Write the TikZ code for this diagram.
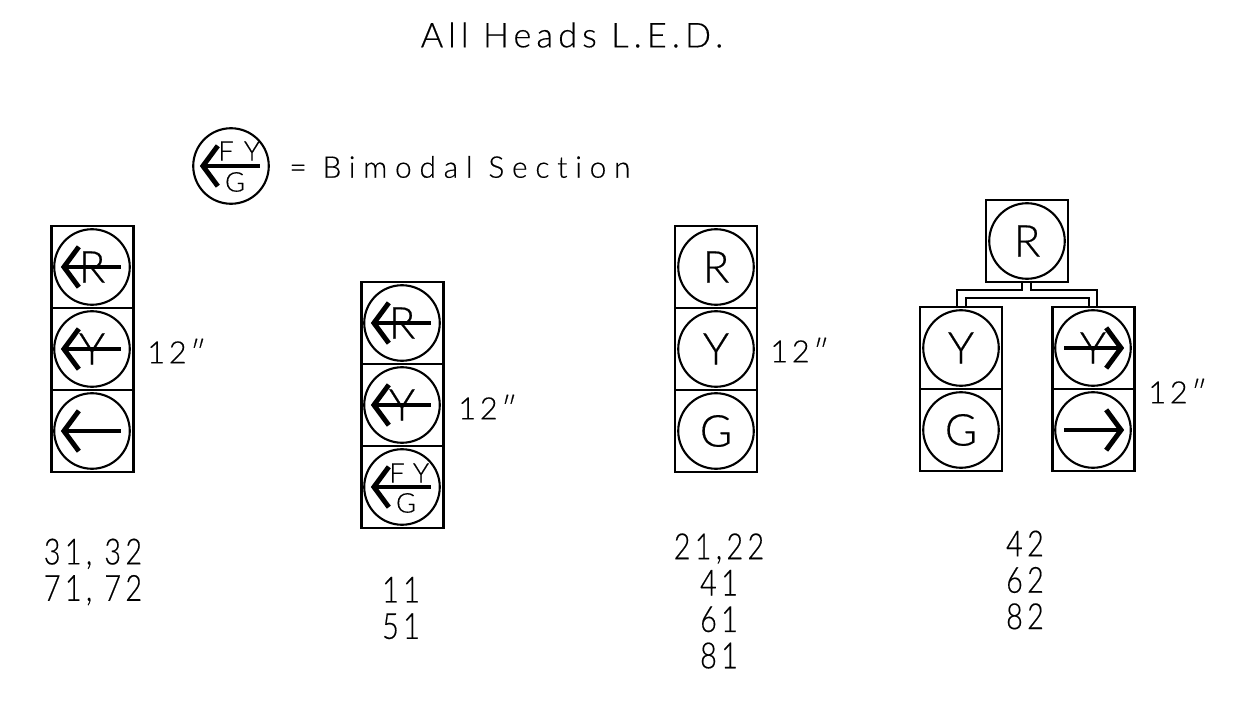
\documentclass[tikz,border=0pt]{standalone}
\usepackage{fontspec}
\setmainfont[FakeBold=0.4]{Lato Light}
\newfontfamily\headfont[LetterSpace=15,Ligatures=NoCommon,FakeBold=0.4]{Lato Light}
\newfontfamily\legfont[LetterSpace=26,Ligatures=NoCommon,FakeBold=0.4]{Lato Light}
\newfontfamily\sizefont[LetterSpace=12,FakeBold=0.4]{Lato Light}
\newfontfamily\numfont[LetterSpace=12,FakeStretch=0.8,FakeBold=0.4]{Lato Light}
\tikzset{
  headbox/.style={draw,line width=1.4pt,minimum width=46.6pt,minimum height=46.6pt,inner sep=0pt,outer sep=0pt},
  lamp/.style={draw,circle,line width=1.2pt,minimum size=43pt,inner sep=0pt,font=\fontsize{25}{26}\selectfont},
  wire/.style={line width=1.3pt},
  shaft/.style={line width=2.3pt},
  barb/.style={line width=2.8pt},
  small/.style={font=\fontsize{15.5}{16}\selectfont,inner sep=0pt},
  sizelabel/.style={font=\sizefont\fontsize{17.5}{18}\selectfont,inner sep=0pt},
  numlabel/.style={font=\numfont\fontsize{20.5}{20.7}\selectfont,align=center,inner sep=0pt},
  titlelabel/.style={font=\headfont\fontsize{19.5}{20}\selectfont,inner sep=0pt},
  legendlabel/.style={font=\legfont\fontsize{17}{18}\selectfont,inner sep=0pt}
}
\newcommand{\leftarw}[1]{%
  \draw[shaft] ([xshift=-16pt]#1.center)--([xshift=16.5pt]#1.center);
  \draw[barb] ([xshift=-7.5pt,yshift=11.5pt]#1.center)--([xshift=-16pt]#1.center)--([xshift=-7.5pt,yshift=-11.5pt]#1.center);
}
\newcommand{\rightarw}[1]{%
  \draw[shaft] ([xshift=16pt]#1.center)--([xshift=-16.5pt]#1.center);
  \draw[barb] ([xshift=7.5pt,yshift=11.5pt]#1.center)--([xshift=16pt]#1.center)--([xshift=7.5pt,yshift=-11.5pt]#1.center);
}
\begin{document}
\begin{tikzpicture}[x=0.02cm,y=-0.02cm]
\useasboundingbox (0,0) rectangle (1241,706);
\node[titlelabel] (title) at (572,35) {All Heads L.E.D.};
% legend
\node[lamp] (legend) at (231,166) {};
\node[small] (legF) at (226,151) {F};
\node[small] (legY) at (252,151) {Y};
\node[small] (legG) at (235,182) {G};
\leftarw{legend}
\node[legendlabel,anchor=west] (legtext) at (289,167) {= Bimodal Section};
% head one
\node[headbox] (a1) at (92.5,267) {};
\node[headbox] (a2) at (92.5,349) {};
\node[headbox] (a3) at (92.5,431) {};
\node[lamp] (la1) at (92,267) {R};
\node[lamp] (la2) at (92,349) {Y};
\node[lamp] (la3) at (92,431) {};
\leftarw{la1}
\leftarw{la2}
\leftarw{la3}
\node[sizelabel,anchor=west] (sa) at (147,351) {12″};
\node[numlabel] (na) at (93,572) {31, 32\\71, 72};
% head two
\node[headbox] (b1) at (402.5,323) {};
\node[headbox] (b2) at (402.5,405) {};
\node[headbox] (b3) at (402.5,487) {};
\node[lamp] (lb1) at (402,323) {R};
\node[lamp] (lb2) at (402,405) {Y};
\node[lamp] (lb3) at (402,487) {};
\node[small] (bF) at (397,473) {F};
\node[small] (bY) at (421,473) {Y};
\node[small] (bG) at (406,503) {G};
\leftarw{lb1}
\leftarw{lb2}
\leftarw{lb3}
\node[sizelabel,anchor=west] (sb) at (458,407) {12″};
\node[numlabel] (nb) at (401,608) {11\\51};
% head three
\node[headbox] (c1) at (716,267) {};
\node[headbox] (c2) at (716,349) {};
\node[headbox] (c3) at (716,431) {};
\node[lamp] (lc1) at (716,267) {R};
\node[lamp] (lc2) at (716,349) {Y};
\node[lamp] (lc3) at (716,431) {G};
\node[sizelabel,anchor=west] (sc) at (770,350) {12″};
\node[numlabel] (nc) at (719,601) {21,22\\41\\61\\81};
% head four
\node[headbox] (d0) at (1027,241) {};
\node[headbox] (d1) at (961,348) {};
\node[headbox] (d2) at (961,430) {};
\node[headbox] (e1) at (1093.5,348) {};
\node[headbox] (e2) at (1093.5,430) {};
\node[lamp] (ld0) at (1027,241) {R};
\node[lamp] (ld1) at (961,348) {Y};
\node[lamp] (ld2) at (961,430) {G};
\node[lamp] (le1) at (1093,348) {Y};
\node[lamp] (le2) at (1093,430) {};
\rightarw{le1}
\rightarw{le2}
\node[sizelabel,anchor=west] (sd) at (1148,391) {12″};
\node[numlabel] (nd) at (1025,580) {42\\62\\82};
% mast arms
\coordinate (tl) at (1022,283);
\coordinate (tr) at (1031,283);
\coordinate (ol) at (957,307);
\coordinate (il) at (966,307);
\coordinate (ir) at (1089,307);
\coordinate (or) at (1097,307);
\draw[wire] (tl)--(1022,290)--(957,290)--(ol);
\draw[wire] (tr)--(1031,290)--(1097,290)--(or);
\draw[wire] (il)--(966,298)--(1089,298)--(ir);
\end{tikzpicture}
\end{document}
